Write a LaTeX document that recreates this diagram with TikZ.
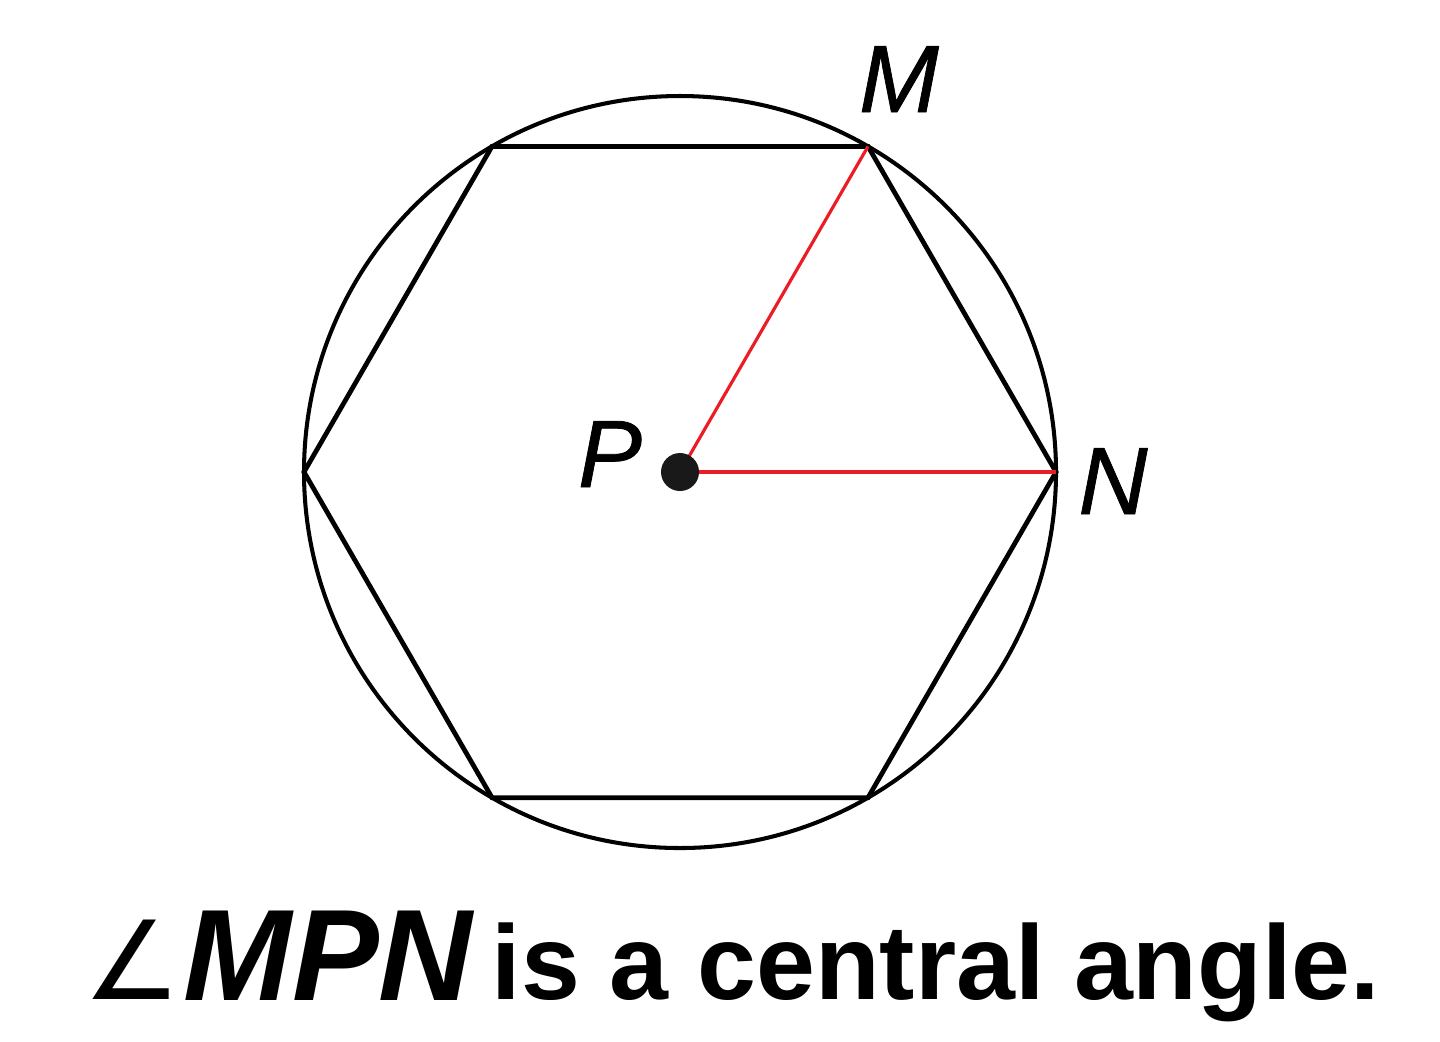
\documentclass[tikz,border=0pt]{standalone}
\usepackage{fontspec}
\setmainfont{Liberation Sans}
\newfontfamily\symfont{DejaVu Sans}
\definecolor{radred}{RGB}{236,28,36}
\begin{document}
\begin{tikzpicture}[x=0.01cm,y=-0.01cm,
  lbl/.style={inner sep=0pt,anchor=base,font=\fontsize{27.2}{30}\selectfont\itshape\addfontfeature{FakeBold=0.8}},
  captxt/.style={inner sep=0pt,anchor=base west}]
\useasboundingbox (0,0) rectangle (1440,1041);
\fill[white] (0,0) rectangle (1440,1041);
\coordinate (P) at (680,472);
\coordinate (N) at (1056,472);
\coordinate (M) at (868,146.4);
\coordinate (TL) at (492,146.4);
\coordinate (L) at (304,472);
\coordinate (BL) at (492,797.6);
\coordinate (BR) at (868,797.6);
\draw[line width=1.15pt] (P) circle[radius=376];
\draw[line width=1.35pt,line join=miter] (N) -- (M) -- (TL) -- (L) -- (BL) -- (BR) -- cycle;
\draw[radred,line width=0.9pt] (P) -- (M);
\draw[radred,line width=0.9pt] (P) -- (N);
\fill[black!90] (P) circle[radius=19];
\node[lbl] (lM) at (899,112) {M};
\node[lbl] (lP) at (610,487) {P};
\node[lbl] (lN) at (1113,514) {N};
\node[captxt,font=\fontsize{31}{36}\selectfont\symfont] (ang) at (83,999) {∠};
\node[captxt,font=\fontsize{37}{40}\selectfont\bfseries\itshape] (mpn) at (183,1000) {MPN};
\node[captxt,font=\fontsize{30.1}{34}\selectfont\bfseries] (txt) at (491,999) {is a central angle.};
\end{tikzpicture}
\end{document}
